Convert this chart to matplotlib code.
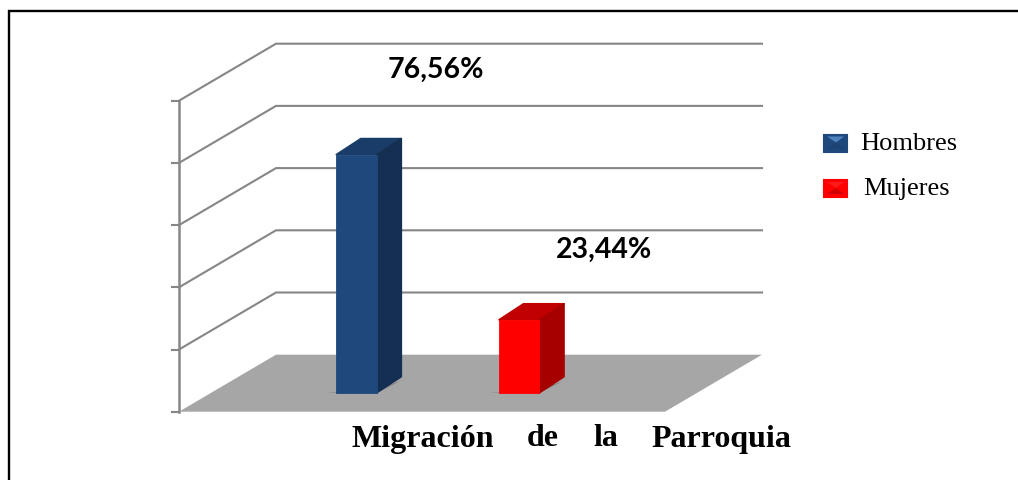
import matplotlib
matplotlib.use("Agg")
import matplotlib.pyplot as plt
from matplotlib.patches import Polygon, Rectangle

categories = ["Hombres", "Mujeres"]
values = [76.56, 23.44]
labels = ["76,56%", "23,44%"]
ticks = [0, 20, 40, 60, 80, 100]
front_colors = ["#1F497D", "#FF0000"]
top_colors = ["#1A3C68", "#C00000"]
side_colors = ["#152F52", "#A60000"]
bevel_light = ["#4F81BD", "#FF1A1A"]
bevel_dark = ["#1C4272", "#D00000"]
title_words = ["Migración", "de", "la", "Parroquia"]

W, H = 1018, 480
fig = plt.figure(figsize=(W / 100, H / 100), dpi=100)
ax = fig.add_axes([0, 0, 1, 1])
ax.set_xlim(0, W)
ax.set_ylim(H, 0)
ax.axis("off")

Y0, K = 411.7, 3.11
DX, DY = 97.0, -57.0
GX0, GX1 = 179.0, 665.0
def vy(v):
    return Y0 - K * v

# frame: only the top and left edges fall inside the picture
ax.plot([8.7, 8.7, W], [H, 10.5, 10.5], color="black", lw=1.7, zorder=1, solid_joinstyle="miter")

# floor
ax.add_patch(Polygon([(GX0, Y0), (GX0 + DX, Y0 + DY), (GX1 + DX, Y0 + DY), (GX1, Y0)],
                     fc="#A6A6A6", ec="none", zorder=2))
# grid
grid = "#868686"
for t in ticks[1:]:
    y = vy(t)
    ax.plot([GX0, GX0 + DX, GX1 + DX], [y, y + DY, y + DY], color=grid, lw=1.5, zorder=2)
for t in ticks:
    ax.plot([GX0 - 7, GX0], [vy(t), vy(t)], color=grid, lw=1.5, zorder=2)
ax.plot([GX0, GX0], [vy(0), vy(100)], color=grid, lw=1.8, zorder=2)

# bars
BW, BDX, BDY = 40.5, 24.5, -16.0
BASE = 392.7
lefts = [336.3, 499.0]
for i, v in enumerate(values):
    x = lefts[i]
    top = BASE - K * v
    # soft shadow under the bar
    ax.add_patch(Polygon([(x - 10, BASE), (x + BW, BASE), (x + BW + BDX + 10, BASE + BDY - 1),
                          (x + BW + BDX, BASE + BDY + 4), (x + BW, BASE - 3)],
                         fc="#707070", ec="none", alpha=0.75, zorder=3))
    ax.add_patch(Polygon([(x, top), (x + BDX, top + BDY), (x + BW + BDX, top + BDY), (x + BW, top)],
                         fc=top_colors[i], ec=top_colors[i], lw=1.2, joinstyle="round", zorder=4))
    ax.add_patch(Polygon([(x + BW, top), (x + BW + BDX, top + BDY), (x + BW + BDX, BASE + BDY), (x + BW, BASE)],
                         fc=side_colors[i], ec=side_colors[i], lw=1.2, joinstyle="round", zorder=4))
    ax.add_patch(Rectangle((x, top), BW, BASE - top, fc=front_colors[i], ec=front_colors[i], lw=0.6,
                           joinstyle="round", zorder=5))

# value labels
label_x = [436, 604]
label_y = [69.5, 249.5]
for s, x, y in zip(labels, label_x, label_y):
    ax.text(x, y, s, ha="center", va="center", fontsize=20.5, fontweight="bold",
            family="Lato", color="black", zorder=6)

# legend
legend_y = [142.5, 188]
text_x = [860, 863]
for i, c in enumerate(categories):
    y = legend_y[i]
    ax.add_patch(Rectangle((823.5, y - 9), 24, 18, fc=front_colors[i], ec=front_colors[i], lw=0.8,
                           joinstyle="round", zorder=5))
    ax.add_patch(Polygon([(827, y - 6), (844, y - 6), (836, y)], fc=bevel_light[i],
                         ec="none", zorder=6))
    ax.add_patch(Polygon([(827, y + 6), (844, y + 6), (836, y)], fc=bevel_dark[i],
                         ec="none", zorder=6))
    ax.text(text_x[i], y + 1.5, c, ha="left", va="center", fontsize=19, family="Liberation Serif", color="black")

# title
title_x = [352, 527, 593, 651]
for s, x in zip(title_words, title_x):
    ax.text(x, 446.5, s, ha="left", va="baseline", fontsize=23, fontweight="bold",
            family="Liberation Serif", color="black")

fig.savefig("out.png", dpi=100, facecolor="white")
